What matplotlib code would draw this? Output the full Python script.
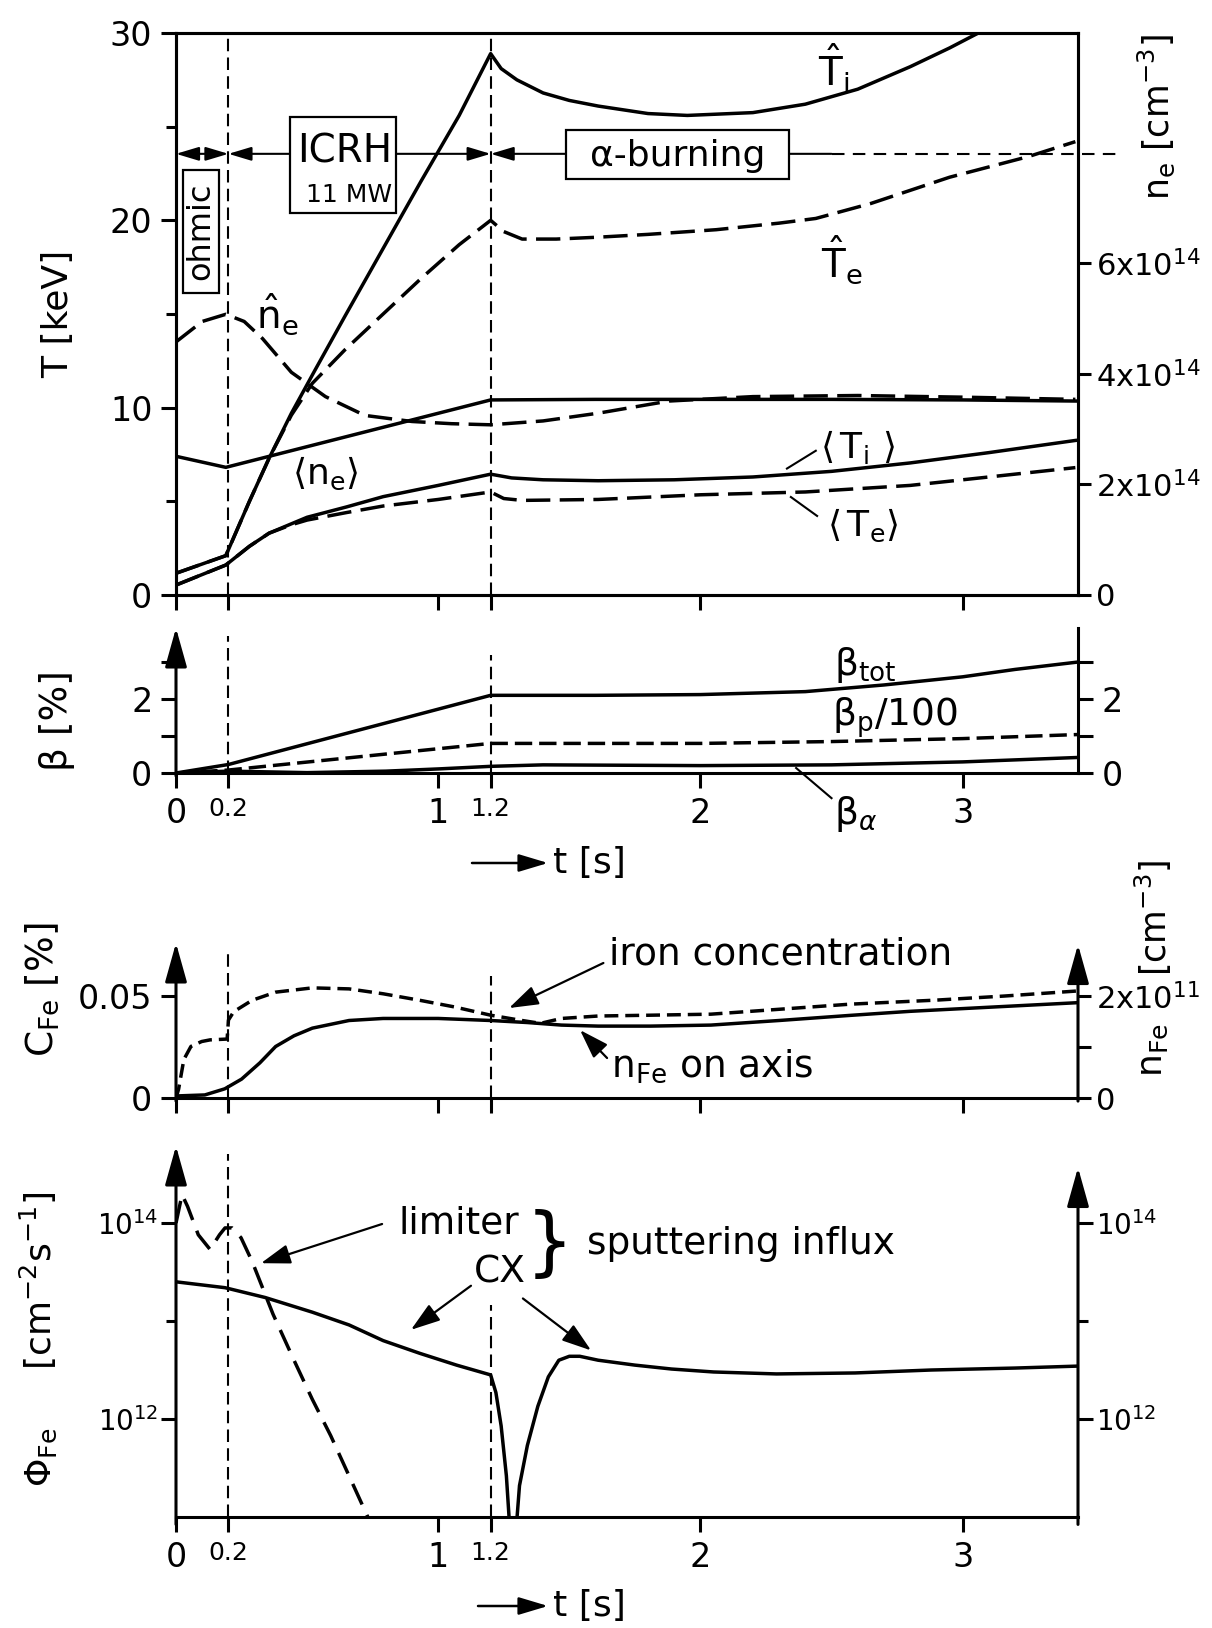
import numpy as np
import matplotlib
matplotlib.use('Agg')
import matplotlib.pyplot as plt
from matplotlib.ticker import FixedLocator, NullFormatter
from matplotlib.patches import Rectangle

plt.rcParams['font.family'] = ['DejaVu Sans']
plt.rcParams['mathtext.fontset'] = 'dejavusans'

# ---- panel 1: temperatures [keV] and densities [1e14 cm^-3] ----
t_Ti_hat = [0, 0.19, 0.28, 0.355, 0.44, 0.53, 0.645, 0.79, 0.935, 1.08, 1.2,
            1.24, 1.3, 1.4, 1.5, 1.61, 1.8, 1.95, 2.2, 2.4, 2.6, 2.8, 2.95, 3.06]
Ti_hat = [1.16, 2.1, 5.0, 7.3, 9.7, 12.0, 14.9, 18.5, 22.1, 25.6, 28.9,
          28.1, 27.5, 26.8, 26.4, 26.1, 25.7, 25.6, 25.75, 26.2, 27.0, 28.2, 29.2, 30.0]

t_Te_hat = [0, 0.19, 0.28, 0.355, 0.44, 0.52, 0.645, 0.79, 0.935, 1.08, 1.2,
            1.25, 1.32, 1.45, 1.61, 1.8, 2.06, 2.3, 2.44, 2.65, 2.95, 3.25, 3.43]
Te_hat = [1.16, 2.1, 5.0, 7.3, 9.6, 11.3, 13.1, 15.0, 16.9, 18.7, 20.0,
          19.4, 19.0, 19.0, 19.1, 19.25, 19.5, 19.85, 20.1, 20.9, 22.3, 23.4, 24.2]

t_Ti_avg = [0, 0.19, 0.28, 0.355, 0.44, 0.5, 0.65, 0.79, 1.0, 1.2, 1.28, 1.4,
            1.61, 1.9, 2.2, 2.5, 2.8, 3.1, 3.43]
Ti_avg = [0.53, 1.6, 2.6, 3.3, 3.8, 4.15, 4.7, 5.25, 5.85, 6.45, 6.25, 6.15,
          6.1, 6.15, 6.3, 6.6, 7.05, 7.6, 8.25]

t_Te_avg = [0, 0.19, 0.28, 0.355, 0.44, 0.5, 0.65, 0.79, 1.0, 1.2, 1.25, 1.32,
            1.61, 2.0, 2.4, 2.8, 3.1, 3.43]
Te_avg = [0.53, 1.6, 2.6, 3.3, 3.75, 4.0, 4.4, 4.75, 5.1, 5.5, 5.15, 5.05,
          5.1, 5.35, 5.5, 5.85, 6.3, 6.8]

t_ne_hat = [0, 0.1, 0.19, 0.26, 0.33, 0.44, 0.57, 0.72, 0.9, 1.05, 1.2, 1.4,
            1.61, 1.88, 2.2, 2.6, 3.0, 3.43]
ne_hat = [4.58, 4.95, 5.08, 4.95, 4.64, 4.03, 3.59, 3.25, 3.14, 3.10, 3.08,
          3.15, 3.29, 3.51, 3.59, 3.61, 3.58, 3.54]

t_ne_avg = [0, 0.19, 1.2, 1.6, 2.0, 2.5, 3.0, 3.43]
ne_avg = [2.51, 2.31, 3.53, 3.54, 3.54, 3.54, 3.53, 3.51]

# ---- panel 2: beta [%] ----
t_beta = [0, 0.2, 1.2, 1.6, 2.0, 2.4, 2.7, 3.0, 3.2, 3.44]
beta_tot = [0, 0.23, 2.1, 2.1, 2.12, 2.2, 2.38, 2.6, 2.8, 3.0]
t_betap = [0, 0.2, 1.2, 1.6, 2.0, 2.5, 3.0, 3.44]
beta_p = [0, 0.08, 0.8, 0.8, 0.8, 0.85, 0.93, 1.04]
t_betaa = [0, 0.2, 0.5, 0.8, 1.0, 1.2, 1.4, 2.0, 2.5, 3.0, 3.44]
beta_a = [0, 0.05, 0.01, 0.05, 0.11, 0.18, 0.22, 0.2, 0.22, 0.3, 0.42]

# ---- panel 3: iron concentration [%] and n_Fe on axis [1e11 cm^-3] ----
t_cfe = [0, 0.01, 0.03, 0.057, 0.098, 0.13, 0.195, 0.2, 0.22, 0.29, 0.38, 0.52,
         0.66, 0.79, 0.93, 1.06, 1.2, 1.31, 1.39, 1.47, 1.61, 1.81, 2.04, 2.3,
         2.57, 2.9, 3.16, 3.44]
c_fe = [0, 0.0044, 0.0189, 0.0253, 0.0277, 0.0285, 0.0289, 0.0382, 0.0423,
        0.0479, 0.0519, 0.054, 0.0535, 0.0511, 0.0479, 0.0447, 0.0406, 0.0382,
        0.0366, 0.039, 0.0402, 0.0406, 0.0411, 0.0435, 0.046, 0.048, 0.05, 0.0525]
t_nfe = [0, 0.11, 0.186, 0.25, 0.32, 0.38, 0.45, 0.52, 0.66, 0.79, 1.0, 1.2,
         1.34, 1.47, 1.61, 1.81, 2.04, 2.3, 2.57, 2.8, 3.1, 3.44]
n_fe = [0.04, 0.06, 0.18, 0.37, 0.69, 1.01, 1.22, 1.37, 1.52, 1.56, 1.56, 1.52,
        1.48, 1.43, 1.41, 1.41, 1.43, 1.52, 1.62, 1.70, 1.78, 1.87]

# ---- panel 4: sputtering influx, log10 [cm^-2 s^-1] ----
t_lim = [0, 0.023, 0.044, 0.085, 0.13, 0.166, 0.187, 0.214, 0.248, 0.29, 0.33,
         0.37, 0.45, 0.52, 0.59, 0.66, 0.74]
log_lim = [14.0, 14.29, 14.17, 13.88, 13.73, 13.88, 13.95, 13.95, 13.85, 13.61,
           13.34, 13.07, 12.6, 12.2, 11.83, 11.42, 10.95]
t_cx = [0, 0.187, 0.34, 0.52, 0.66, 0.79, 0.93, 1.07, 1.2, 1.22, 1.24, 1.26,
        1.275, 1.295, 1.31, 1.34, 1.38, 1.42, 1.46, 1.5, 1.54, 1.61, 1.75, 1.89,
        2.05, 2.29, 2.59, 2.88, 3.2, 3.44]
log_cx = [13.40, 13.34, 13.24, 13.09, 12.96, 12.80, 12.67, 12.55, 12.45, 12.27,
          11.93, 11.42, 10.8, 10.8, 11.32, 11.73, 12.13, 12.43, 12.6, 12.64,
          12.64, 12.60, 12.55, 12.51, 12.48, 12.46, 12.47, 12.5, 12.52, 12.54]

LW = 2.5
AX_LW = 2.2
K = 'black'

fig = plt.figure(figsize=(12.12, 16.28), dpi=100)
fig.patch.set_facecolor('white')
L, W = 176 / 1212, 902 / 1212


def pos(top, bot):
    return [L, 1 - bot / 1628, W, (bot - top) / 1628]


ax1 = fig.add_axes(pos(33, 595))
ax2 = fig.add_axes(pos(628, 773))
ax3 = fig.add_axes(pos(943, 1098))
ax4 = fig.add_axes(pos(1146, 1517))

xt = [0, 0.2, 1, 1.2, 2, 3]
xl = ['0', '0.2', '1', '1.2', '2', '3']
xs = [24, 18, 24, 18, 24, 24]

for ax in (ax1, ax2, ax3, ax4):
    ax.set_xlim(0, 3.44)
    ax.set_xticks(xt)
    ax.tick_params(axis='both', which='major', direction='out', length=11,
                   width=AX_LW, labelsize=24, pad=6)
    ax.tick_params(axis='both', which='minor', direction='out', length=7,
                   width=AX_LW)
    for s in ax.spines.values():
        s.set_linewidth(AX_LW)
    ax.set_facecolor('none')


def axis_arrow(ax, x, top=1.0):
    ax.annotate('', xy=(x, top), xytext=(x, -0.02), xycoords='axes fraction',
                textcoords='axes fraction', annotation_clip=False,
                arrowprops=dict(arrowstyle='-|>,head_length=1.0,head_width=0.28',
                                lw=AX_LW, color=K, mutation_scale=24,
                                shrinkA=0, shrinkB=0))


def vdash(ax, x, y0, y1):
    ax.plot([x, x], [y0, y1], color=K, lw=1.5, dashes=(6, 3), clip_on=False)


def pointer(ax, xy, xytext):
    ax.annotate('', xy=xy, xytext=xytext,
                arrowprops=dict(arrowstyle='-|>,head_length=0.9,head_width=0.3',
                                lw=1.6, color=K, mutation_scale=20,
                                shrinkA=0, shrinkB=0))


# ================= panel 1 =================
ax1.set_ylim(0, 30)
ax1.set_yticks([0, 10, 20, 30])
ax1.yaxis.set_minor_locator(FixedLocator([5, 15, 25]))
ax1.tick_params(axis='x', labelbottom=False)
ax1.plot(t_Ti_hat, Ti_hat, color=K, lw=LW)
ax1.plot(t_Te_hat, Te_hat, color=K, lw=LW, dashes=(7, 2.7))
ax1.plot(t_Ti_avg, Ti_avg, color=K, lw=LW)
ax1.plot(t_Te_avg, Te_avg, color=K, lw=LW, dashes=(7, 2.7))
vdash(ax1, 0.2, 0, 30)
vdash(ax1, 1.2, 0, 30)

ax1r = ax1.twinx()
ax1r.set_ylim(0, 10.17)
ax1r.set_yticks([0, 2, 4, 6])
ax1r.set_yticklabels(['0', '2x10$^{14}$', '4x10$^{14}$', '6x10$^{14}$'])
ax1r.tick_params(axis='y', direction='out', length=9, width=AX_LW,
                 labelsize=22, pad=4)
for s in ax1r.spines.values():
    s.set_linewidth(AX_LW)
ax1r.plot(t_ne_hat, ne_hat, color=K, lw=LW, dashes=(7, 2.7))
ax1r.plot(t_ne_avg, ne_avg, color=K, lw=LW)

ax1.set_ylabel('T [keV]', fontsize=26)
ax1.yaxis.set_label_coords(-0.112, 0.5)
ax1r.set_ylabel('n$_\\mathrm{e}$ [cm$^{-3}$]', fontsize=25)
ax1r.yaxis.set_label_coords(1.064, 0.85)

# phase markers
yb = 23.55
ha = dict(lw=1.5, color=K, mutation_scale=14, shrinkA=0, shrinkB=0)
ax1.annotate('', xy=(0, yb), xytext=(0.2, yb),
             arrowprops=dict(arrowstyle='<|-|>,head_length=1.0,head_width=0.3', **ha))
ax1.annotate('', xy=(0.2, yb), xytext=(1.2, yb),
             arrowprops=dict(arrowstyle='<|-|>,head_length=1.0,head_width=0.3', **ha))
ax1.annotate('', xy=(1.2, yb), xytext=(2.5, yb),
             arrowprops=dict(arrowstyle='-|>,head_length=1.0,head_width=0.3', **ha))
ax1.plot([2.5, 3.60], [yb, yb], color=K, lw=1.5, dashes=(6, 4), clip_on=False)

ax1.add_patch(Rectangle((0.435, 20.37), 0.404, 5.15, facecolor='white',
                        edgecolor=K, lw=1.6, zorder=4))
ax1.text(0.645, 23.65, 'ICRH', fontsize=28, ha='center', va='center', zorder=5)
ax1.text(0.825, 21.35, '11 MW', fontsize=18, ha='right', va='center', zorder=5)
ax1.add_patch(Rectangle((0.025, 16.1), 0.139, 6.6, facecolor='white',
                        edgecolor=K, lw=1.6, zorder=4))
ax1.text(0.094, 19.4, 'ohmic', fontsize=23, rotation=90, ha='center',
         va='center', zorder=5)
ax1.add_patch(Rectangle((1.487, 22.2), 0.851, 2.6, facecolor='white',
                        edgecolor=K, lw=1.6, zorder=4))
ax1.text(1.912, 23.45, '\u03b1-burning', fontsize=26, ha='center',
         va='center', zorder=5)

ax1.text(2.51, 28.1, r'$\hat{\mathrm{T}}_\mathrm{i}$', fontsize=28,
         ha='center', va='center')
ax1.text(2.54, 17.9, r'$\hat{\mathrm{T}}_\mathrm{e}$', fontsize=28,
         ha='center', va='center')
ax1.text(0.385, 15.0, r'$\hat{\mathrm{n}}_\mathrm{e}$', fontsize=28,
         ha='center', va='center')
ax1.text(0.57, 6.5, r'$\langle\mathrm{n}_\mathrm{e}\rangle$', fontsize=26,
         ha='center', va='center')
ax1.text(2.6, 7.9, r'$\langle\,\mathrm{T}_\mathrm{i}\ \rangle$', fontsize=26,
         ha='center', va='center')
ax1.text(2.62, 3.7, r'$\langle\,\mathrm{T}_\mathrm{e}\rangle$', fontsize=26,
         ha='center', va='center')
ax1.plot([2.33, 2.44], [6.75, 7.7], color=K, lw=1.5)
ax1.plot([2.345, 2.445], [5.23, 4.22], color=K, lw=1.5)

# ================= panel 2 =================
ax2.set_ylim(0, 3.92)
ax2.set_yticks([0, 1, 2, 3])
ax2.set_yticklabels(['0', '', '2', ''])
ax2.tick_params(axis='y', right=True, labelright=True)
ax2.spines['top'].set_visible(False)
ax2.spines['left'].set_visible(False)
axis_arrow(ax2, 0)
ax2.set_xticklabels(xl)
for lab, s in zip(ax2.get_xticklabels(), xs):
    lab.set_fontsize(s)
ax2.plot(t_beta, beta_tot, color=K, lw=LW)
ax2.plot(t_betap, beta_p, color=K, lw=LW, dashes=(5, 2))
ax2.plot(t_betaa, beta_a, color=K, lw=LW)
vdash(ax2, 0.2, 0, 3.7)
vdash(ax2, 1.2, 0, 3.2)
ax2.set_ylabel('\u03b2 [%]', fontsize=27)
ax2.yaxis.set_label_coords(-0.112, 0.36)
ax2.text(2.63, 2.92, '\u03b2$_{\\mathrm{tot}}$', fontsize=27, ha='center', va='center')
ax2.text(2.74, 1.49, '\u03b2$_\\mathrm{p}$/100', fontsize=27, ha='center', va='center')
ax2.text(2.59, -1.1, '\u03b2$_\\alpha$', fontsize=27, ha='center', va='center')
ax2.plot([2.365, 2.5], [0.135, -0.68], color=K, lw=1.5, clip_on=False)

# ================= panel 3 =================
ax3.set_ylim(0, 0.076)
ax3.set_yticks([0, 0.05])
ax3.set_yticklabels(['0', '0.05'])
ax3.tick_params(axis='x', labelbottom=False)
for side in ('top', 'left', 'right'):
    ax3.spines[side].set_visible(False)
axis_arrow(ax3, 0)
axis_arrow(ax3, 1, 0.99)
ax3.plot(t_cfe, c_fe, color=K, lw=LW, dashes=(4, 2))
vdash(ax3, 0.2, 0, 0.071)
vdash(ax3, 1.2, 0, 0.06)
ax3.set_ylabel('C$_\\mathrm{Fe}$ [%]', fontsize=27)
ax3.yaxis.set_label_coords(-0.128, 0.7)

ax3r = ax3.twinx()
ax3r.set_ylim(0, 0.076 * 40)
ax3r.set_yticks([0, 1, 2])
ax3r.set_yticklabels(['0', '', '2x10$^{11}$'])
ax3r.tick_params(axis='y', direction='out', length=9, width=AX_LW,
                 labelsize=22, pad=4)
for s in ax3r.spines.values():
    s.set_visible(False)
ax3r.plot(t_nfe, n_fe, color=K, lw=LW)
# right label is split around the 2x10^11 tick label, as in the original
fig.text(1153 / 1212, 1 - 1050 / 1628, 'n$_\\mathrm{Fe}$', fontsize=26,
         rotation=90, ha='center', va='center')
fig.text(1153 / 1212, 1 - 918 / 1628, '[cm$^{-3}$]', fontsize=25,
         rotation=90, ha='center', va='center')

ax3.text(1.65, 0.0705, 'iron concentration', fontsize=27, ha='left', va='center')
pointer(ax3, (1.27, 0.0441), (1.63, 0.0662))
ax3.text(1.66, 0.0155, r'$\mathrm{n_{Fe}}$ on axis', fontsize=27,
         ha='left', va='center')
pointer(ax3, (1.541, 0.0333), (1.644, 0.0196))

# ================= panel 4 =================
ax4.set_yscale('log')
ax4.set_ylim(1e11, 10 ** 14.786)
ax4.yaxis.set_major_locator(FixedLocator([1e12, 1e14]))
ax4.yaxis.set_minor_locator(FixedLocator([1e13]))
ax4.yaxis.set_minor_formatter(NullFormatter())
ax4.set_yticklabels(['10$^{12}$', '10$^{14}$'])
ax4.tick_params(axis='y', which='both', right=True, labelright=True,
                labelsize=20, pad=2)
for side in ('top', 'left', 'right'):
    ax4.spines[side].set_visible(False)
axis_arrow(ax4, 0)
axis_arrow(ax4, 1, 0.942)
ax4.set_xticklabels(xl)
for lab, s in zip(ax4.get_xticklabels(), xs):
    lab.set_fontsize(s)
ax4.plot(t_lim, 10 ** np.array(log_lim), color=K, lw=LW, dashes=(6.5, 3.3))
ax4.plot(t_cx, 10 ** np.array(log_cx), color=K, lw=LW)
vdash(ax4, 0.2, 1e11, 10 ** 14.7)
vdash(ax4, 1.2, 1e11, 10 ** 13.16)
ax4.set_ylabel(r'$\Phi_{\mathrm{Fe}}$     [cm$^{-2}$s$^{-1}$]', fontsize=26)
ax4.yaxis.set_label_coords(-0.13, 0.48)

ax4.text(1.08, 10 ** 14.0, 'limiter', fontsize=27, ha='center', va='center')
ax4.text(1.426, 10 ** 13.77, '}', fontsize=54, ha='center', va='center')
ax4.text(1.567, 10 ** 13.79, 'sputtering influx', fontsize=27, ha='left',
         va='center')
ax4.text(1.236, 10 ** 13.49, 'CX', fontsize=27, ha='center', va='center')
pointer(ax4, (0.324, 10 ** 13.59), (0.786, 10 ** 13.99))
pointer(ax4, (0.896, 10 ** 12.91), (1.125, 10 ** 13.36))
pointer(ax4, (1.583, 10 ** 12.70), (1.323, 10 ** 13.23))

# time axis captions
for x0, yc in ((472, 863), (478, 1606)):
    yf = 1 - yc / 1628
    fig.add_artist(matplotlib.patches.FancyArrowPatch(
        (x0 / 1212, yf), (548 / 1212, yf), transform=fig.transFigure,
        arrowstyle='-|>,head_length=1.0,head_width=0.3', lw=1.8, color=K,
        mutation_scale=18, shrinkA=0, shrinkB=0))
    fig.text(553 / 1212, yf, 't [s]', fontsize=26, ha='left', va='center')

fig.savefig('out.png', dpi=100, facecolor='white')
